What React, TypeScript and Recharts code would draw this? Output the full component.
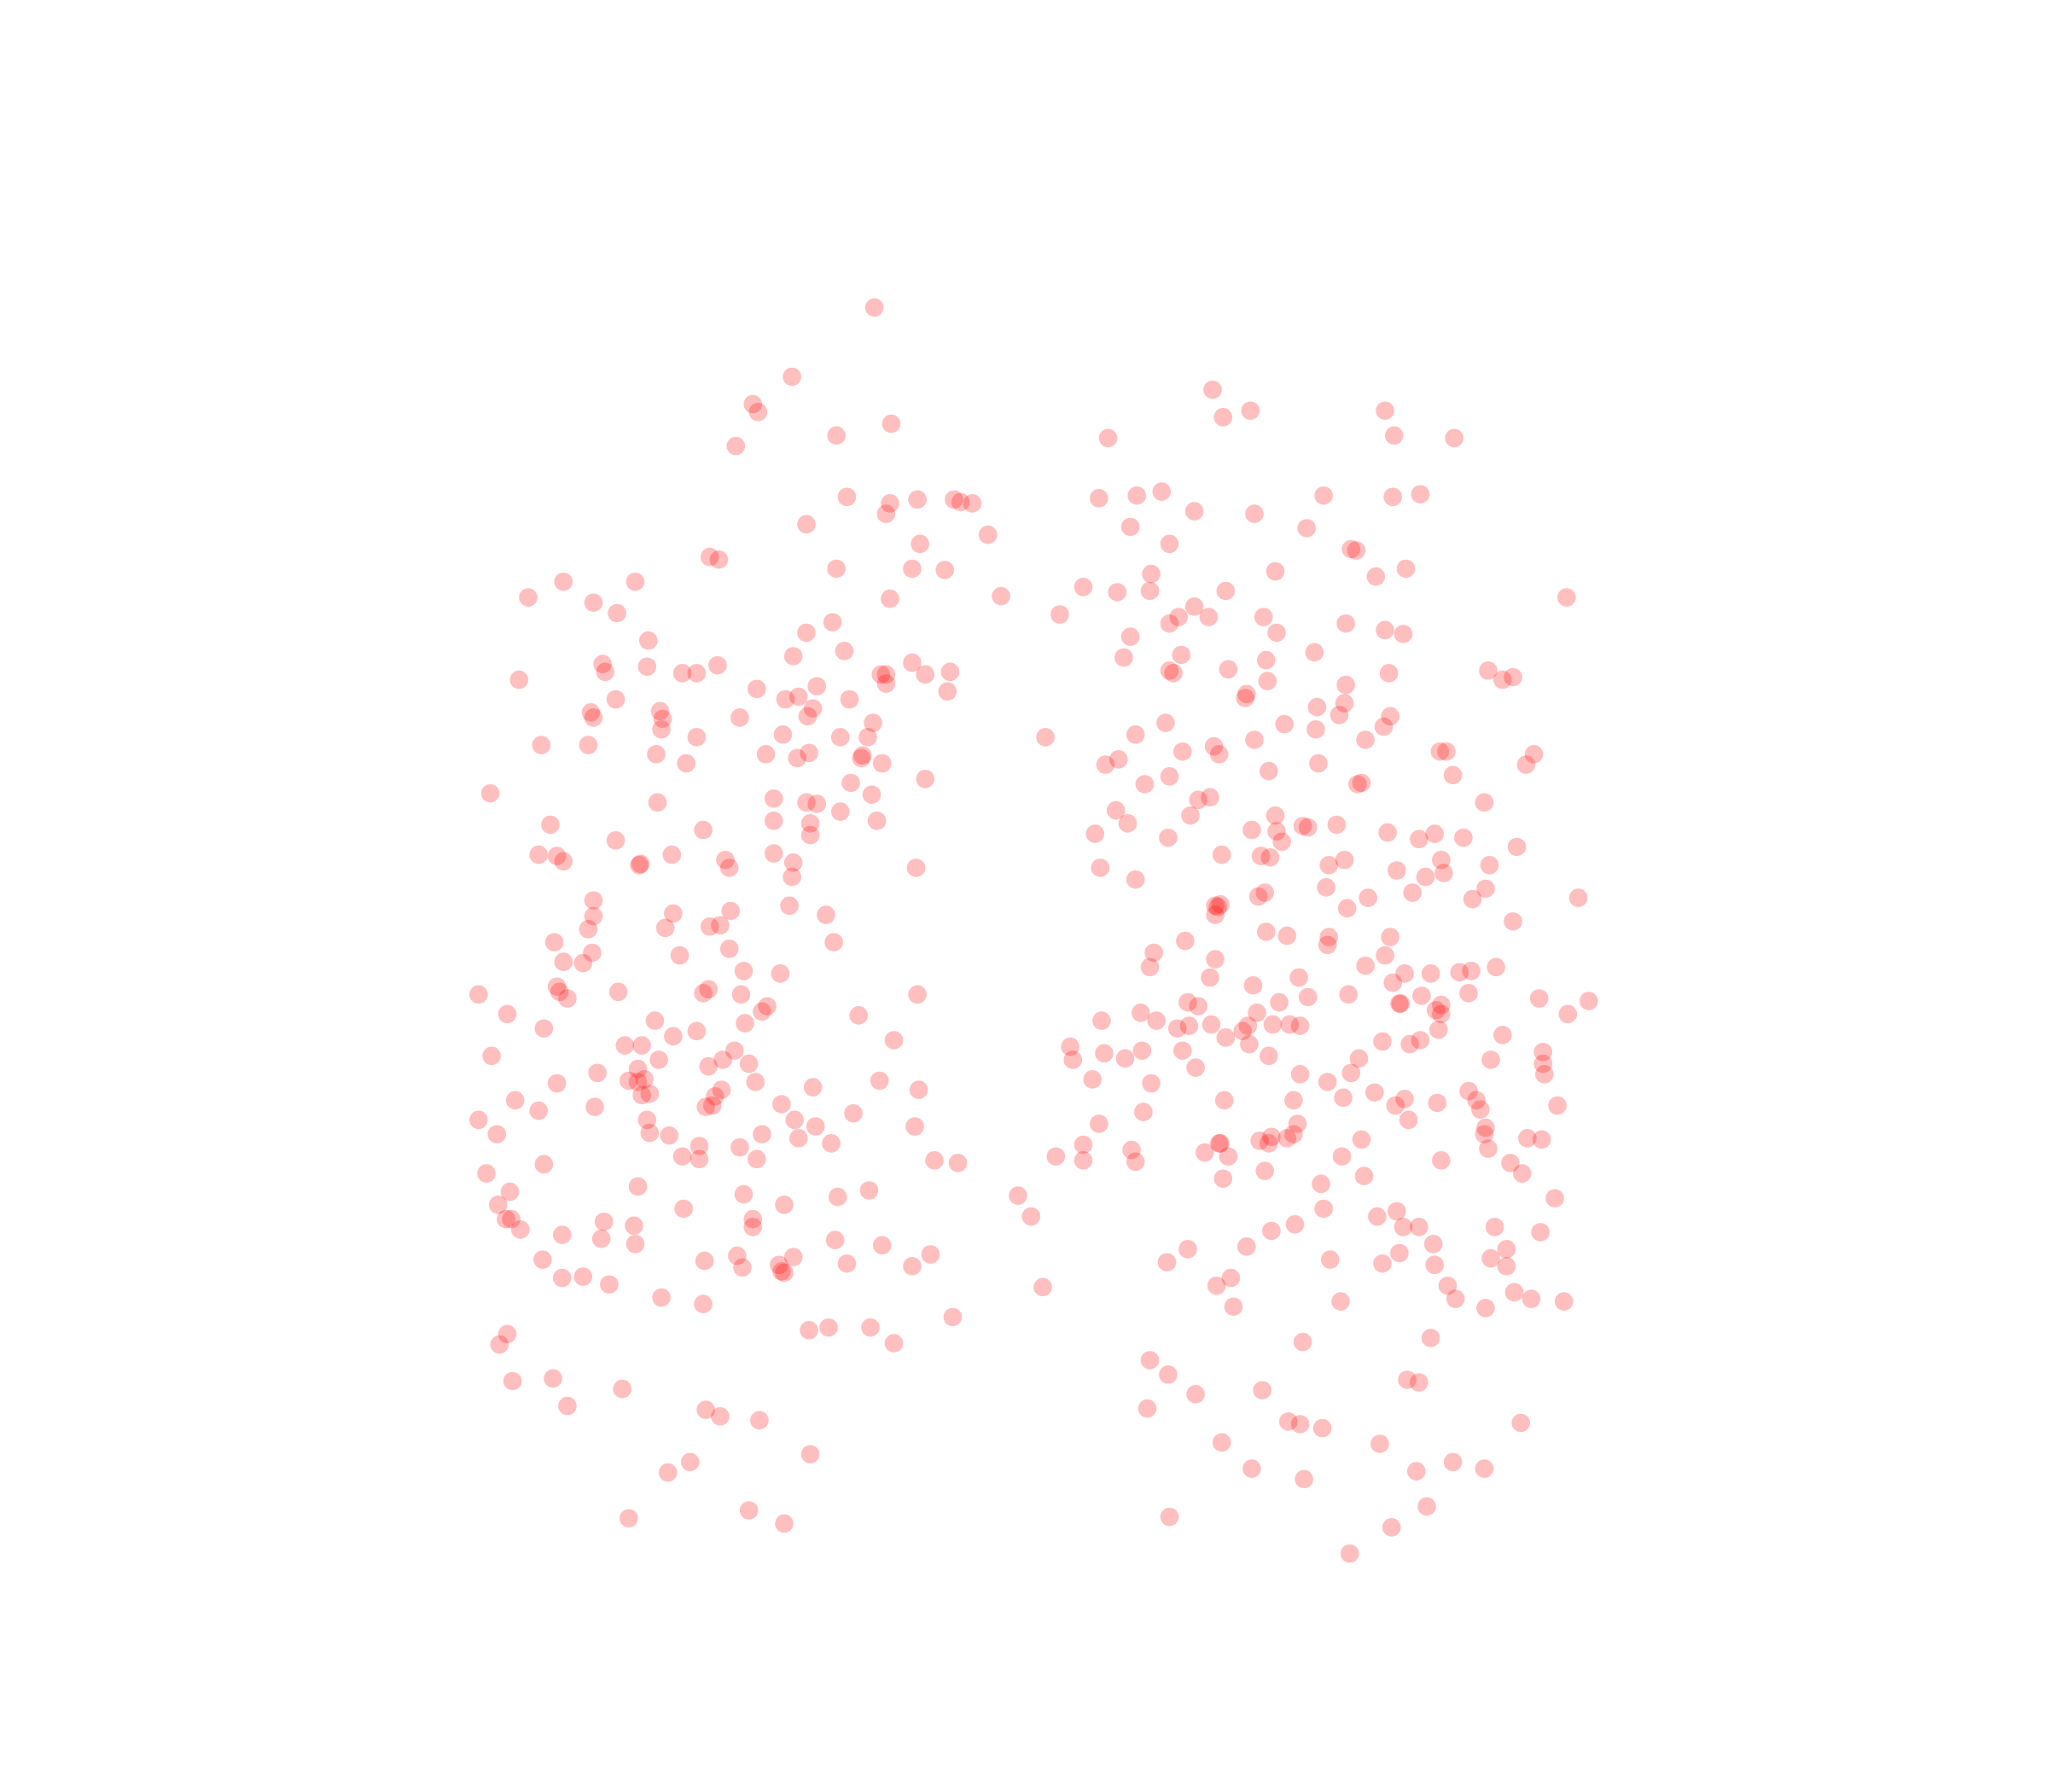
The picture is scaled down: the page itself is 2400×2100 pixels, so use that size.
import React from "react";
import { ScatterChart, Scatter, XAxis, YAxis } from "recharts";

type Pair = [number, number];

const leftCluster: Pair[] = [
[669,235],[606,288],[576,309],[580,315],[563,341],[640,333],[682,324],[648,380],[681,385],[678,393],[702,382],[730,382],[735,384],[744,385],[617,401],[756,409],[704,416],[543,426],[550,428],[640,435],[698,435],[723,436],[486,445],[431,445],[404,457],[454,461],[472,469],[681,458],[766,456],[637,476],[617,484],[496,490],[646,498],[607,502],[461,508],[463,514],[495,510],[549,509],[522,515],[533,515],[397,520],[698,507],[674,516],[678,516],[678,523],[708,516],[727,514],[725,529],[579,527],[625,525],[611,533],[601,535],[622,542],[650,535],[471,535],[452,545],[454,549],[505,544],[507,550],[506,558],[618,548],[566,549],[668,553],[533,564],[599,562],[643,564],[664,564],[414,570],[450,570],[502,577],[586,577],[619,576],[610,580],[660,578],[659,580],[675,584],[525,584],[708,596],[651,599],[375,607],[503,614],[592,611],[617,614],[625,615],[667,608],[643,621],[671,628],[592,628],[620,630],[620,639],[421,631],[538,635],[471,643],[412,654],[426,655],[431,659],[514,654],[592,653],[555,658],[558,664],[607,660],[606,671],[490,661],[489,662],[701,664],[454,689],[454,701],[604,693],[559,697],[515,699],[632,700],[509,710],[543,709],[551,708],[450,711],[424,721],[638,721],[558,726],[453,729],[520,731],[431,736],[446,737],[569,743],[597,745],[426,755],[428,759],[434,764],[473,759],[542,757],[538,760],[567,761],[702,761],[366,761],[388,776],[587,770],[583,774],[657,777],[501,781],[570,783],[416,787],[533,789],[515,793],[684,796],[478,800],[491,800],[376,808],[562,804],[553,811],[504,811],[542,816],[573,814],[488,818],[457,821],[481,827],[488,828],[493,826],[578,828],[426,829],[673,827],[622,832],[703,834],[497,837],[491,838],[552,834],[547,839],[545,846],[540,847],[394,842],[455,847],[412,850],[598,845],[653,852],[366,857],[495,857],[608,857],[624,862],[700,862],[380,868],[497,867],[512,869],[583,868],[611,871],[636,875],[535,877],[566,878],[522,885],[535,887],[579,887],[416,891],[715,888],[733,890],[372,898],[488,908],[390,912],[569,914],[641,916],[665,911],[381,922],[600,922],[523,925],[387,933],[391,933],[398,941],[462,935],[485,938],[576,933],[576,939],[430,945],[460,948],[486,952],[639,949],[675,953],[712,960],[415,964],[539,965],[564,961],[607,962],[596,968],[568,970],[648,967],[698,969],[598,973],[600,974],[430,978],[446,977],[466,983],[506,993],[538,998],[388,1021],[382,1029],[619,1018],[634,1016],[666,1016],[684,1028],[729,1008],[392,1057],[423,1055],[476,1063],[434,1076],[540,1079],[551,1084],[581,1087],[620,1113],[528,1119],[511,1127],[481,1162],[573,1156],[600,1166],
];

const rightCluster: Pair[] = [
[928,298],[936,319],[957,314],[1060,314],[1067,333],[1113,335],[848,335],[841,381],[870,379],[889,376],[914,391],[960,393],[1013,379],[1066,380],[1087,378],[865,403],[1000,404],[895,416],[1034,420],[1038,421],[881,439],[976,437],[1053,441],[1076,435],[829,449],[855,453],[880,452],[938,452],[811,470],[914,464],[902,472],[895,477],[925,472],[967,472],[1199,457],[865,487],[977,484],[1030,477],[1060,482],[1074,485],[904,501],[860,503],[969,505],[1006,499],[895,513],[898,515],[940,512],[970,521],[1063,515],[1139,513],[1150,520],[1158,518],[1030,524],[954,531],[953,534],[1029,538],[1008,541],[1025,547],[1064,548],[892,553],[983,554],[1007,558],[1059,556],[800,564],[869,562],[929,571],[960,566],[1045,566],[905,575],[933,577],[1102,575],[1107,575],[1174,577],[846,585],[856,581],[1009,584],[971,590],[1168,585],[1112,593],[895,594],[876,600],[1039,600],[1042,599],[917,612],[926,610],[1136,614],[854,620],[863,630],[911,624],[976,624],[958,635],[977,636],[997,632],[1001,633],[1023,631],[1062,637],[838,638],[894,641],[981,644],[1086,642],[1098,638],[1120,641],[935,654],[965,655],[972,656],[1029,658],[1017,662],[1103,658],[1161,648],[842,664],[1069,666],[1140,662],[869,673],[1091,671],[1105,668],[1015,679],[1081,683],[1137,680],[963,686],[968,683],[1047,687],[1127,688],[1208,687],[930,693],[934,692],[932,694],[930,700],[1031,695],[1158,705],[969,713],[985,716],[907,720],[1017,717],[1016,723],[1064,717],[883,729],[930,734],[880,740],[1045,739],[1060,731],[926,748],[994,748],[1075,745],[1066,752],[1095,745],[1117,744],[1126,743],[1145,740],[959,754],[1124,760],[909,767],[917,770],[979,767],[1001,763],[1032,761],[1071,768],[1072,768],[1088,762],[1103,769],[1099,773],[1103,776],[1178,764],[1216,766],[873,775],[843,781],[885,781],[962,775],[1200,776],[901,787],[910,785],[927,784],[955,785],[951,789],[974,784],[987,784],[995,785],[1101,788],[938,794],[956,799],[1058,797],[1079,799],[1087,796],[1150,792],[819,801],[821,811],[845,806],[861,810],[874,804],[905,804],[971,808],[1040,810],[1141,811],[1181,805],[1181,814],[1182,822],[915,817],[836,826],[881,829],[995,822],[1034,821],[1016,828],[1124,835],[937,842],[990,842],[1028,840],[1052,836],[1075,841],[1068,846],[1100,844],[1130,842],[1133,849],[1192,846],[875,851],[841,860],[993,860],[1078,857],[1137,863],[1136,868],[1169,871],[1180,872],[964,873],[973,870],[971,875],[985,871],[990,868],[933,875],[934,875],[1042,872],[1139,879],[829,876],[866,880],[808,885],[829,888],[869,889],[922,882],[940,885],[1027,885],[1103,888],[1156,890],[936,902],[968,896],[1044,900],[1165,898],[1011,906],[779,915],[1190,917],[789,931],[1013,925],[1054,931],[1069,927],[1074,939],[1086,939],[1144,939],[991,937],[973,942],[1179,943],[954,954],[909,956],[1097,952],[1153,956],[893,966],[1018,964],[1058,967],[1071,959],[1098,968],[1141,963],[1153,969],[942,978],[931,984],[1108,984],[798,985],[1159,989],[944,1000],[1026,996],[1114,994],[1137,1001],[1172,994],[1197,996],[997,1027],[1095,1024],[880,1041],[894,1052],[1077,1056],[1086,1058],[966,1064],[915,1067],[878,1078],[986,1088],[995,1090],[1012,1093],[1164,1089],[935,1104],[1056,1105],[958,1124],[998,1132],[1084,1126],[1112,1119],[1136,1124],[895,1161],[1092,1153],[1065,1169],[1033,1189],
];

const points = [...leftCluster, ...rightCluster].map(([x, y]) => ({ x, y }));

const Dot = (p: any) => <circle cx={p.cx} cy={p.cy} r={10.8} fill="#ff0000" fillOpacity={0.25} />;

export default function App() {
  return (
    <div style={{ position: "absolute", left: 0, top: 0, width: 2400, height: 2100, background: "#fff" }}>
      <ScatterChart width={2400} height={2100} margin={{ top: 0, right: 0, bottom: 0, left: 0 }}>
        <XAxis type="number" dataKey="x" domain={[-0.4, 1567.6]} allowDataOverflow hide />
        <YAxis type="number" dataKey="y" domain={[-0.4, 1371.6]} allowDataOverflow reversed hide />
        <Scatter data={points} shape={Dot} isAnimationActive={false} />
      </ScatterChart>
    </div>
  );
}
